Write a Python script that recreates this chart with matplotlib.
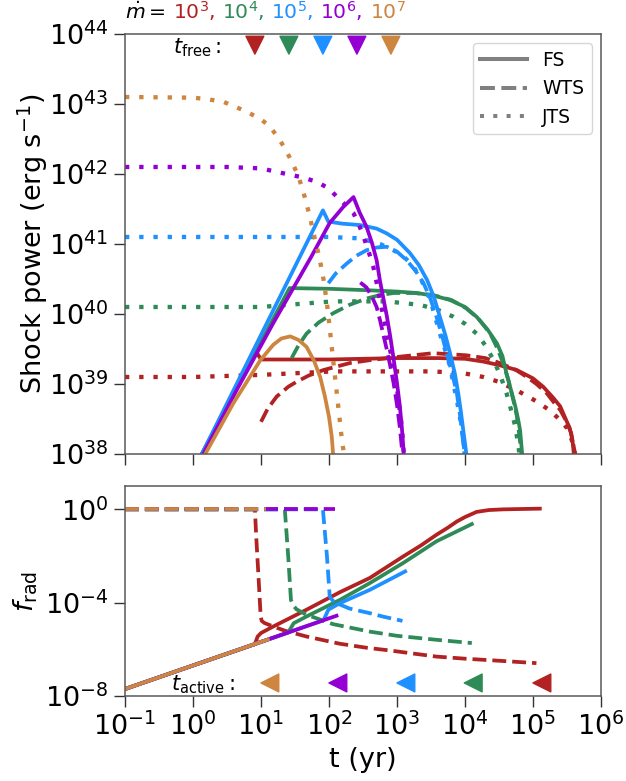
import numpy as np
import matplotlib
matplotlib.use("Agg")
import matplotlib.pyplot as plt
from matplotlib.lines import Line2D
from matplotlib.ticker import NullLocator

# accretion rates and colours (red, green, blue, purple, orange)
mdot_exp = [3, 4, 5, 6, 7]
colors = ["firebrick", "seagreen", "dodgerblue", "darkviolet", "peru"]

# ---- top panel: log10 t (yr), log10 shock power (erg/s) ----
fs_logt = [
    [0.13, 0.93, 1.0, 2.0, 3.0, 3.6, 4.0, 4.27, 4.5, 4.76, 5.0, 5.15, 5.3, 5.4, 5.48, 5.54, 5.58, 5.6],
    [0.13, 1.42, 2.0, 2.55, 3.0, 3.29, 3.55, 3.78, 4.0, 4.17, 4.33, 4.47, 4.55, 4.61, 4.68, 4.74, 4.78, 4.81, 4.84],
    [0.13, 1.91, 1.99, 2.2, 2.46, 2.7, 2.85, 3.0, 3.19, 3.32, 3.44, 3.54, 3.63, 3.71, 3.78, 3.85, 3.90, 3.94, 3.97, 4.02],
    [0.15, 0.64, 1.18, 1.74, 2.01, 2.21, 2.36, 2.45, 2.55, 2.63, 2.70, 2.75, 2.80, 2.85, 2.90, 2.95, 3.0, 3.04, 3.07, 3.1],
    [0.18, 0.59, 0.99, 1.18, 1.3, 1.43, 1.55, 1.67, 1.78, 1.87, 1.94, 2.0, 2.04, 2.06],
]
fs_logL = [
    [38.0, 39.46, 39.35, 39.35, 39.37, 39.37, 39.36, 39.32, 39.27, 39.2, 39.08, 38.96, 38.8, 38.68, 38.5, 38.37, 38.2, 38.0],
    [38.0, 40.37, 40.36, 40.34, 40.32, 40.30, 40.26, 40.2, 40.1, 39.96, 39.78, 39.58, 39.4, 39.15, 38.9, 38.68, 38.5, 38.34, 38.0],
    [38.0, 41.48, 41.32, 41.29, 41.27, 41.22, 41.15, 41.06, 40.87, 40.70, 40.49, 40.25, 39.96, 39.70, 39.44, 39.15, 38.87, 38.6, 38.37, 38.0],
    [38.0, 38.91, 39.87, 40.82, 41.30, 41.53, 41.67, 41.45, 41.25, 41.02, 40.77, 40.47, 40.22, 39.97, 39.68, 39.36, 39.01, 38.7, 38.39, 38.0],
    [38.0, 38.72, 39.34, 39.56, 39.65, 39.68, 39.63, 39.53, 39.33, 39.10, 38.82, 38.53, 38.25, 38.0],
]

wts_logt = [
    [1.0, 1.1, 1.23, 1.4, 1.52, 1.7, 1.92, 2.31, 2.6, 3.04, 3.53, 4.02, 4.3, 4.51, 4.75, 4.91, 5.05, 5.20, 5.32, 5.40, 5.5, 5.56, 5.62],
    [1.45, 1.55, 1.67, 1.85, 2.06, 2.3, 2.55, 2.75, 2.95, 3.25, 3.53, 3.8, 4.02, 4.2, 4.37, 4.47, 4.56, 4.64, 4.71, 4.76, 4.79, 4.83],
    [1.99, 2.1, 2.26, 2.4, 2.55, 2.7, 2.85, 3.0, 3.14, 3.27, 3.39, 3.49, 3.58, 3.66, 3.73, 3.81, 3.88, 3.92, 3.95, 3.99],
    [2.46, 2.55, 2.63, 2.70, 2.75, 2.80, 2.85, 2.90, 2.95, 3.0, 3.04, 3.08],
    None,
]
wts_logL = [
    [38.46, 38.65, 38.82, 38.96, 39.03, 39.12, 39.2, 39.30, 39.34, 39.39, 39.44, 39.41, 39.37, 39.30, 39.2, 39.10, 39.0, 38.87, 38.72, 38.63, 38.45, 38.3, 38.0],
    [39.37, 39.55, 39.72, 39.88, 40.01, 40.13, 40.22, 40.27, 40.30, 40.30, 40.27, 40.2, 40.08, 39.93, 39.72, 39.52, 39.30, 39.05, 38.77, 38.55, 38.34, 38.0],
    [40.44, 40.58, 40.72, 40.83, 40.91, 40.95, 40.96, 40.89, 40.77, 40.62, 40.44, 40.22, 39.96, 39.70, 39.44, 39.15, 38.87, 38.6, 38.37, 38.0],
    [40.45, 40.38, 40.25, 40.1, 39.91, 39.7, 39.49, 39.26, 39.01, 38.7, 38.39, 38.0],
    None,
]

jts_logt = [
    [-1, 0.0, 1.0, 2.06, 3.0, 3.53, 4.0, 4.27, 4.5, 4.76, 5.0, 5.1, 5.25, 5.35, 5.45, 5.5, 5.57, 5.62],
    [-1, 1.0, 1.38, 2.06, 2.85, 3.34, 3.6, 3.83, 4.0, 4.17, 4.3, 4.42, 4.52, 4.61, 4.68, 4.74, 4.78, 4.8],
    [-1, 1.0, 2.0, 2.46, 2.75, 2.95, 3.1, 3.24, 3.37, 3.49, 3.56, 3.63, 3.71, 3.78, 3.83, 3.88, 3.92, 3.95, 4.0],
    [-1, 0.5, 1.0, 1.23, 1.57, 1.82, 2.0, 2.11, 2.25, 2.36, 2.45, 2.51, 2.58, 2.65, 2.70, 2.75, 2.80, 2.85, 2.90, 2.95, 3.0, 3.02, 3.05, 3.07, 3.1],
    [-1, 0.0, 0.2, 0.45, 0.79, 1.0, 1.13, 1.25, 1.35, 1.45, 1.55, 1.65, 1.72, 1.79, 1.86, 1.92, 1.97, 2.01, 2.06, 2.11, 2.15, 2.19, 2.22],
]
jts_logL = [
    [39.10, 39.10, 39.13, 39.18, 39.18, 39.18, 39.15, 39.10, 39.03, 38.91, 38.78, 38.72, 38.62, 38.53, 38.43, 38.37, 38.2, 38.0],
    [40.10, 40.10, 40.13, 40.18, 40.18, 40.13, 40.06, 39.96, 39.86, 39.72, 39.55, 39.34, 39.12, 38.87, 38.62, 38.39, 38.15, 38.0],
    [41.10, 41.10, 41.10, 41.08, 41.0, 40.91, 40.82, 40.68, 40.46, 40.2, 39.96, 39.72, 39.48, 39.25, 39.0, 38.77, 38.55, 38.39, 38.0],
    [42.10, 42.10, 42.08, 42.03, 41.96, 41.89, 41.79, 41.68, 41.55, 41.44, 41.25, 41.10, 40.9, 40.68, 40.45, 40.2, 39.96, 39.72, 39.48, 39.25, 38.95, 38.77, 38.55, 38.39, 38.0],
    [43.10, 43.09, 43.07, 43.03, 42.89, 42.78, 42.68, 42.52, 42.37, 42.18, 41.97, 41.65, 41.38, 41.08, 40.8, 40.49, 40.15, 39.8, 39.35, 38.91, 38.55, 38.2, 38.0],
]

# ---- bottom panel: log10 t (yr), log10 f_rad ----
frad_fs_logt = [
    [-1, 0.0, 0.91, 0.95, 1.0, 1.18, 1.67, 2.16, 2.60, 3.09, 3.35, 3.58, 3.75, 3.88, 4.0, 4.17, 4.35, 4.56, 5.10],
    [-1, 1.40, 1.48, 1.67, 2.16, 2.60, 3.09, 3.58, 4.10],
    [-1, 1.92, 1.99, 2.16, 2.60, 3.12],
    [-1, 2.11],
    [-1, 1.10],
]
frad_fs_logf = [
    [-7.70, -6.69, -5.78, -5.45, -5.30, -5.02, -4.30, -3.55, -2.94, -2.02, -1.55, -1.09, -0.78, -0.52, -0.33, -0.11, -0.03, 0.0, 0.03],
    [-7.70, -5.28, -4.88, -4.59, -3.88, -3.16, -2.30, -1.37, -0.63],
    [-7.70, -4.75, -4.30, -4.02, -3.45, -2.66],
    [-7.70, -4.56],
    [-7.70, -5.58],
]
frad_wts_logt = [
    [-1, 0.91, 0.93, 0.96, 0.995, 1.01, 1.05, 1.18, 1.35, 1.67, 2.16, 2.55, 2.90, 3.58, 4.0, 4.51, 5.05],
    [-1, 1.35, 1.40, 1.44, 1.47, 1.52, 1.67, 1.77, 2.06, 2.60, 3.0, 3.58, 4.10],
    [-1, 1.91, 1.97, 2.01, 2.05, 2.11, 2.3, 2.60, 2.8, 3.08],
    [-1, 2.09],
    [-1, 1.08],
]
frad_wts_logf = [
    [0, 0, -1.2, -2.73, -4.59, -4.78, -4.87, -5.02, -5.2, -5.45, -5.76, -5.93, -6.05, -6.31, -6.4, -6.49, -6.59],
    [0, 0, -2.02, -3.88, -4.1, -4.28, -4.52, -4.62, -4.92, -5.24, -5.42, -5.59, -5.73],
    [0, 0, -2.02, -3.73, -3.9, -4.02, -4.25, -4.45, -4.6, -4.78],
    [0, 0],
    [0, 0],
]

tfree_logt = [0.91, 1.41, 1.91, 2.41, 2.91]
tactive_logt = [5.13, 4.12, 3.13, 2.13, 1.13]

fig = plt.figure(figsize=(6.26, 7.81), dpi=100)
ax1 = fig.add_axes([0.1997, 0.4187, 0.7604, 0.5378])
ax2 = fig.add_axes([0.1997, 0.1088, 0.7604, 0.2689])

lw = 2.7
dotted = (0, (1, 2.3))

for i, c in enumerate(colors):
    ax1.plot(10**np.array(fs_logt[i]), 10**np.array(fs_logL[i]), color=c, lw=lw, ls="-")
    if wts_logt[i] is not None:
        ax1.plot(10**np.array(wts_logt[i]), 10**np.array(wts_logL[i]), color=c, lw=lw, ls="--")
    ax1.plot(10**np.array(jts_logt[i]), 10**np.array(jts_logL[i]), color=c, lw=3.1, ls=dotted)

    ax2.plot(10**np.array(frad_fs_logt[i]), 10**np.array(frad_fs_logf[i]), color=c, lw=lw, ls="-")
    ax2.plot(10**np.array(frad_wts_logt[i]), 10**np.array(frad_wts_logf[i]), color=c, lw=lw, ls="--")

# time markers
ax1.scatter(10**np.array(tfree_logt), [10**43.84] * 5, marker="v", s=165, c=colors, zorder=5, clip_on=False)
ax1.text(10**0.42, 10**43.80, r"$t_{\rm free}:$", fontsize=15, ha="right", va="center")
ax2.scatter(10**np.array(tactive_logt), [10**-7.44] * 5, marker="<", s=165, c=colors, zorder=5, clip_on=False)
ax2.text(10**0.62, 10**-7.52, r"$t_{\rm active}:$", fontsize=15, ha="right", va="center")

for ax in (ax1, ax2):
    ax.set_xscale("log")
    ax.set_yscale("log")
    ax.set_xlim(1e-1, 1e6)
    ax.set_xticks([10.0**k for k in range(-1, 7)])
    ax.xaxis.set_minor_locator(NullLocator())
    ax.yaxis.set_minor_locator(NullLocator())
    ax.tick_params(which="major", length=8, width=1.0, labelsize=19.5, color="0.2", pad=4)
    for sp in ax.spines.values():
        sp.set_color("0.35")
        sp.set_linewidth(1.1)

ax1.set_ylim(1e38, 1e44)
ax1.set_yticks([10.0**k for k in range(38, 45)])
ax1.tick_params(labelbottom=False)
ax1.yaxis.set_minor_locator(NullLocator())
ax1.set_ylabel(r"Shock power (erg s$^{-1}$)", fontsize=19.5)
ax1.yaxis.set_label_coords(-0.157, 0.5)

ax2.set_ylim(1e-8, 1e1)
ax2.set_yticks([1e-8, 1e-4, 1e0])
ax2.yaxis.set_minor_locator(NullLocator())
ax2.set_ylabel(r"$f_{\rm rad}$", fontsize=19.5)
ax2.yaxis.set_label_coords(-0.178, 0.5)
ax2.set_xlabel("t (yr)", fontsize=19.5)

handles = [Line2D([], [], color="gray", lw=2.9, ls="-"),
           Line2D([], [], color="gray", lw=2.9, ls="--"),
           Line2D([], [], color="gray", lw=2.9, ls=(0, (1, 2.3)))]
ax1.legend(handles, ["FS", "WTS", "JTS"], loc="upper right", fontsize=13.5, handlelength=2.5)

# coloured mdot header
fig.canvas.draw()
r = fig.canvas.get_renderer()
pieces = [(r"$\dot{m}=$", "k")] + [(r"$10^{%d}$," % k, c) for k, c in zip(mdot_exp[:-1], colors[:-1])] \
    + [(r"$10^{%d}$" % mdot_exp[-1], colors[-1])]
x = 0.0
for s, c in pieces:
    t = ax1.text(x, 1.035, s, color=c, fontsize=14.7, transform=ax1.transAxes, va="baseline")
    bb = t.get_window_extent(renderer=r)
    x = ax1.transAxes.inverted().transform((bb.x1 + 7, bb.y0))[0]

fig.savefig("out.png", dpi=100)
